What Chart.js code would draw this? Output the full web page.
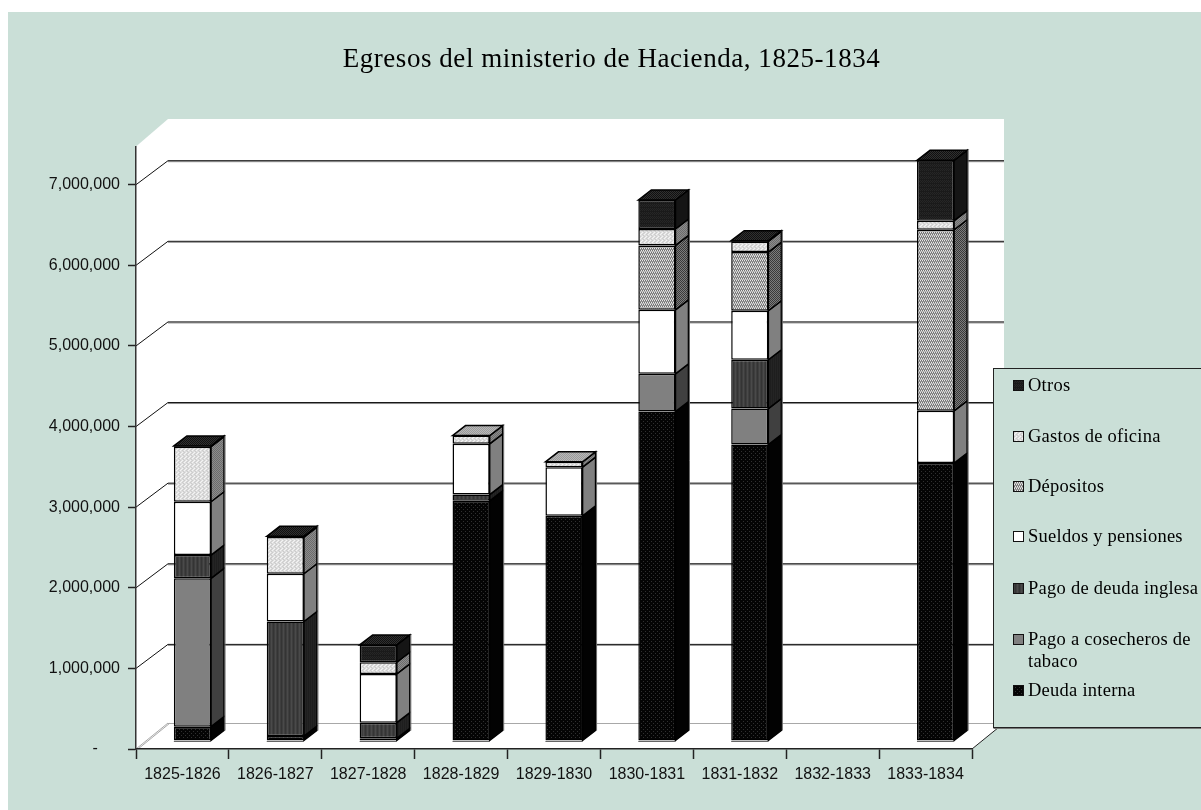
<!DOCTYPE html>
<html><head><meta charset="utf-8">
<style>html,body{margin:0;padding:0;background:#fff}canvas{display:block}</style>
<script src="https://cdn.jsdelivr.net/npm/chart.js@4/dist/chart.umd.js"></script>
</head><body><canvas id="c" width="1201" height="810"></canvas>
<script>
const categories=['1825-1826','1826-1827','1827-1828','1828-1829','1829-1830','1830-1831','1831-1832','1832-1833','1833-1834'];
const deudaInterna=[178000,62000,34000,2979000,2793000,4087000,3678000,null,3447000];
const pagoCosecheros=[1840000,null,null,null,null,468000,446000,null,null];
const pagoDeudaInglesa=[288000,1420000,193000,78000,null,null,605000,null,null];
const sueldosPensiones=[662000,593000,605000,629000,604000,794000,608000,null,649000];
const depositos=[null,null,null,null,null,798000,728000,null,2246000];
const gastosOficina=[683000,455000,145000,103000,66000,204000,132000,null,112000];
const otros=[9000,9000,215000,null,null,360000,9000,null,749000];
const seriesNames=['Deuda interna','Pago a cosecheros de tabaco','Pago de deuda inglesa','Sueldos y pensiones','Dépositos','Gastos de oficina','Otros'];
const seriesValues=[deudaInterna,pagoCosecheros,pagoDeudaInglesa,sueldosPensiones,depositos,gastosOficina,otros];
const yTickValues=[0,1000000,2000000,3000000,4000000,5000000,6000000,7000000];
const titleText='Egresos del ministerio de Hacienda, 1825-1834';

const SERIF='"Liberation Serif","DejaVu Serif",serif';
const BG='#CADFD7';
function pat(rows,colors){
  const h=rows.length,w=rows[0].length,c=document.createElement('canvas');c.width=w;c.height=h;
  const x=c.getContext('2d');
  rows.forEach((r,j)=>[...r].forEach((ch,i)=>{x.fillStyle=colors[ch];x.fillRect(i,j,1,1);}));
  return document.getElementById('c').getContext('2d').createPattern(c,'repeat');
}
const fills=[
 pat(['aaaa','abaa','aaaa','aaab'],{a:'#040404',b:'#303030'}),
 '#808080',
 pat(['abac','abac'],{a:'#3e3e3e',b:'#4a4a4a',c:'#343434'}),
 '#ffffff',
 pat(['abab','cccc','baba','dddd'],{a:'#e8e8e8',b:'#6e6e6e',c:'#929292',d:'#b6b6b6'}),
 pat(['abcb','bcba','cbab','bcbb'],{a:'#f4f4f4',b:'#dedede',c:'#cccccc'}),
 pat(['abab','baba','abab','bbbb'],{a:'#262626',b:'#1a1a1a'})
];
const sides=[
 '#020202','#404040',
 pat(['ab','ab'],{a:'#1e1e1e',b:'#242424'}),
 '#808080',
 pat(['ab','ba'],{a:'#3a3a3a',b:'#7c7c7c'}),
 pat(['ab','ba'],{a:'#6c6c6c',b:'#8c8c8c'}),
 '#151515'
];
const tops=[
 '#060606','#606060','#2a2a2a','#bfbfbf',
 pat(['ab','ba'],{a:'#808080',b:'#b0b0b0'}),
 pat(['ab','ba'],{a:'#9a9a9a',b:'#b8b8b8'}),
 pat(['ab','ba'],{a:'#101010',b:'#303030'})
];

const BAR_DX=10,BAR_DY=-8,DEPTH_DX=13,DEPTH_DY=-10;
const WALL_DX=32,WALL_DY=-24,WALL_TOP=119;
const LEG={x:993.5,y:368.5,r:1203,b:727.5};
const legRows=[['Otros',386],['Gastos de oficina',437],['Dépositos',487],['Sueldos y pensiones',537],['Pago de deuda inglesa',589],['Pago a cosecheros de tabaco',640],['Deuda interna',691]];

const scene={
 id:'scene',
 afterLayout(chart){
  const t=chart.titleBlock;t.left=22;t.right=1201;
  if(!t._spaced){t._spaced=true;const d=t.draw;t.draw=function(){chart.ctx.letterSpacing='0.55px';d.apply(t,arguments);chart.ctx.letterSpacing='0px';};}
 },
 beforeDraw(chart){
  const {ctx,chartArea:a,scales:{y}}=chart;
  ctx.save();
  ctx.fillStyle='#fff';ctx.fillRect(0,0,1201,810);
  ctx.fillStyle=BG;ctx.fillRect(8,12,1193,798);
  ctx.fillStyle='#fff';
  ctx.beginPath();
  ctx.moveTo(a.left,a.top);ctx.lineTo(a.left+WALL_DX,WALL_TOP);ctx.lineTo(a.right+WALL_DX,WALL_TOP);
  ctx.lineTo(a.right+WALL_DX,a.bottom-26);ctx.lineTo(a.right,a.bottom);ctx.lineTo(a.left,a.bottom);ctx.closePath();ctx.fill();
  y.ticks.forEach(t=>{
    const p=y.getPixelForValue(t.value);
    if(t.value===0)return;
    ctx.strokeStyle='#8c8c8c';ctx.lineWidth=1;
    ctx.beginPath();ctx.moveTo(a.left+WALL_DX,p+WALL_DY+1);ctx.lineTo(a.right+WALL_DX,p+WALL_DY+1);ctx.stroke();
    ctx.strokeStyle='#111';
    ctx.beginPath();ctx.moveTo(a.left,p);ctx.lineTo(a.left+WALL_DX,p+WALL_DY);ctx.lineTo(a.right+WALL_DX,p+WALL_DY);ctx.stroke();
  });
  const fy=a.bottom-26;
  ctx.strokeStyle='#a8a8a8';ctx.lineWidth=1;
  ctx.beginPath();ctx.moveTo(a.left+WALL_DX,fy+.5);ctx.lineTo(a.right+WALL_DX,fy+.5);ctx.stroke();
  ctx.beginPath();ctx.moveTo(a.left,a.bottom);ctx.lineTo(a.left+WALL_DX,fy);ctx.stroke();
  ctx.beginPath();ctx.moveTo(a.left+2,a.bottom);ctx.lineTo(a.left+WALL_DX+2,fy);ctx.stroke();
  ctx.strokeStyle='#222';
  ctx.beginPath();ctx.moveTo(a.right,a.bottom);ctx.lineTo(a.right+WALL_DX,fy);ctx.stroke();
  ctx.restore();
 },
 beforeDatasetsDraw(chart){chart.ctx.save();chart.ctx.translate(BAR_DX,BAR_DY);},
 afterDatasetsDraw(chart){
  const ctx=chart.ctx;
  ctx.lineJoin='miter';ctx.lineWidth=1.5;ctx.strokeStyle='#000';
  categories.forEach((_,i)=>{
    let top=null,topIdx=-1,bottom=null;
    chart.data.datasets.forEach((ds,k)=>{
      if(!Number.isFinite(ds.data[i]))return;
      const e=chart.getDatasetMeta(k).data[i];
      const xr=e.x+e.width/2;
      ctx.fillStyle=sides[k];
      ctx.beginPath();ctx.moveTo(xr,e.base);ctx.lineTo(xr+DEPTH_DX,e.base+DEPTH_DY);ctx.lineTo(xr+DEPTH_DX,e.y+DEPTH_DY);ctx.lineTo(xr,e.y);ctx.closePath();ctx.fill();ctx.stroke();
      if(bottom===null)bottom=e.base;
      top=e;topIdx=k;
    });
    if(top){
      const xl=top.x-top.width/2,xr=top.x+top.width/2;
      ctx.fillStyle=tops[topIdx];
      ctx.beginPath();ctx.moveTo(xl,top.y);ctx.lineTo(xl+DEPTH_DX,top.y+DEPTH_DY);ctx.lineTo(xr+DEPTH_DX,top.y+DEPTH_DY);ctx.lineTo(xr,top.y);ctx.closePath();ctx.fill();ctx.stroke();
      ctx.strokeStyle='#666';ctx.lineWidth=1;
      ctx.beginPath();ctx.moveTo(xr+DEPTH_DX+1,top.y+DEPTH_DY);ctx.lineTo(xr+DEPTH_DX+1,bottom+DEPTH_DY);ctx.stroke();
      ctx.beginPath();ctx.moveTo(xl,bottom+1);ctx.lineTo(xr,bottom+1);ctx.stroke();
      ctx.strokeStyle='#000';ctx.lineWidth=1.5;
    }
  });
  ctx.restore();
 },
 afterDraw(chart){
  const ctx=chart.ctx;
  ctx.save();
  ctx.fillStyle=BG;ctx.fillRect(LEG.x,LEG.y,LEG.r-LEG.x,LEG.b-LEG.y);
  ctx.strokeStyle='#222';ctx.lineWidth=1;
  ctx.strokeRect(LEG.x,LEG.y,LEG.r-LEG.x,LEG.b-LEG.y);
  ctx.strokeStyle='#777';ctx.beginPath();ctx.moveTo(LEG.x,LEG.b+1);ctx.lineTo(LEG.r,LEG.b+1);ctx.stroke();
  ctx.font='18.5px '+SERIF;ctx.letterSpacing='0.25px';ctx.textBaseline='middle';ctx.textAlign='left';
  legRows.forEach(([name,yy])=>{
    const k=seriesNames.indexOf(name);
    ctx.fillStyle=fills[k];ctx.fillRect(1013.5,yy-5.5,10,10);
    ctx.strokeStyle='#111';ctx.lineWidth=1;ctx.strokeRect(1013.5,yy-5.5,10,10);
    ctx.fillStyle='#000';
    const words=name.split(' ');let line='',ly=yy;
    words.forEach(w=>{
      const t=line?line+' '+w:w;
      if(ctx.measureText(t).width>172&&line){ctx.fillText(line,1028,ly);line=w;ly+=22;}
      else line=t;
    });
    ctx.fillText(line,1028,ly);
  });
  ctx.letterSpacing='0px';
  ctx.restore();
 }
};

new Chart(document.getElementById('c'),{
 type:'bar',
 data:{labels:categories,datasets:seriesValues.map((v,k)=>({
   label:seriesNames[k],data:v,backgroundColor:fills[k],borderColor:'#000',borderWidth:1.5,borderSkipped:false,
   barPercentage:0.4,categoryPercentage:1,clip:false
 }))},
 options:{
  responsive:false,animation:false,
  layout:{padding:{right:229}},
  plugins:{
   legend:{display:false},tooltip:{enabled:false},
   title:{display:true,text:titleText,color:'#000',font:{family:SERIF,size:27,weight:'normal',lineHeight:1.2},padding:{top:44,bottom:70}}
  },
  scales:{
   x:{stacked:true,
      border:{color:'#222',width:1.5},
      grid:{drawOnChartArea:false,drawTicks:true,tickLength:10,tickColor:'#222',tickWidth:1.5},
      ticks:{color:'#111',font:{family:'"Liberation Sans",Arial,sans-serif',size:16},padding:6,maxRotation:0,autoSkip:false},
      afterFit(s){s.height=61;}},
   y:{stacked:true,min:0,max:7475000,
      border:{color:'#333',width:1.5},
      grid:{drawOnChartArea:false,drawTicks:true,tickLength:8,tickColor:'#222',tickWidth:1.5},
      ticks:{autoSkip:false,color:'#111',font:{family:'"Liberation Sans",Arial,sans-serif',size:16},padding:8,
        callback:v=>v===0?'-\u00A0\u00A0\u00A0\u00A0\u00A0':v.toLocaleString('en-US')},
      afterBuildTicks(s){s.ticks=yTickValues.map(value=>({value}));},
      afterFit(s){s.width=136;}}
  }
 },
 plugins:[scene]
});
</script></body></html>
